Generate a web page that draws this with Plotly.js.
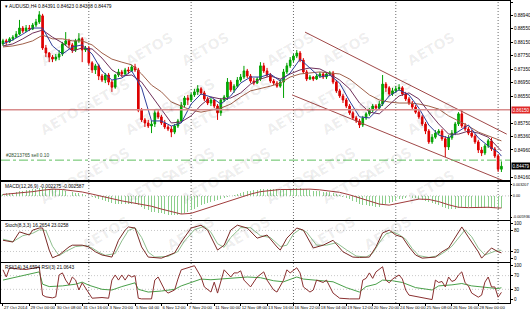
<!DOCTYPE html>
<html><head><meta charset="utf-8">
<script src="https://cdn.plot.ly/plotly-3.0.1.min.js"></script>
<style>html,body{margin:0;padding:0;background:#fff}#c{width:530px;height:310px}</style>
</head><body><div id="c"></div>
<script>
const headerText = "\u25BE AUDUSD,H4 0.84391 0.84623 0.84308 0.84479";
const macdText = "MACD(12,26,9) -0.002275 -0.002587";
const stochText = "Stoch(8,3,3) 16.2654 23.0258";
const rsiText = "RSI(14) 34.6594 RSI(3) 21.0643";
const orderText = "#28213765 sell 0.10";

const openP = [0.8810,0.8819,0.8816,0.8825,0.8830,0.8839,0.8857,0.8848,0.8857,0.8854,0.8866,0.8875,0.8893,0.8798,0.8783,0.8771,0.8765,0.8771,0.8780,0.8810,
0.8819,0.8807,0.8792,0.8819,0.8825,0.8792,0.8798,0.8754,0.8733,0.8745,0.8715,0.8703,0.8718,0.8697,0.8682,0.8718,0.8727,0.8721,0.8733,0.8730,
0.8742,0.8733,0.8614,0.8585,0.8576,0.8567,0.8573,0.8606,0.8594,0.8576,0.8564,0.8558,0.8549,0.8567,0.8582,0.8629,0.8650,0.8644,0.8659,0.8668,
0.8677,0.8665,0.8647,0.8635,0.8644,0.8626,0.8606,0.8644,0.8653,0.8697,0.8674,0.8685,0.8703,0.8712,0.8730,0.8715,0.8700,0.8694,0.8706,0.8745,
0.8730,0.8718,0.8700,0.8694,0.8685,0.8697,0.8727,0.8745,0.8762,0.8774,0.8783,0.8762,0.8727,0.8706,0.8712,0.8706,0.8715,0.8721,0.8712,0.8721,
0.8724,0.8697,0.8671,0.8656,0.8644,0.8626,0.8606,0.8591,0.8582,0.8570,0.8591,0.8603,0.8614,0.8626,0.8620,0.8632,0.8691,0.8680,0.8662,0.8671,
0.8677,0.8680,0.8662,0.8647,0.8635,0.8623,0.8608,0.8594,0.8573,0.8552,0.8520,0.8534,0.8546,0.8552,0.8529,0.8505,0.8532,0.8546,0.8573,0.8603,
0.8567,0.8558,0.8546,0.8537,0.8520,0.8496,0.8487,0.8508,0.8523,0.8499,0.8478,0.84391];
const highP = [0.8825,0.8825,0.8830,0.8836,0.8848,0.8881,0.8863,0.8866,0.8866,0.8872,0.8884,0.8907,0.8899,0.8807,0.8786,0.8777,0.8780,0.8792,0.8816,0.8845,
0.8825,0.8813,0.8825,0.8842,0.8830,0.8804,0.8804,0.8759,0.8751,0.8751,0.8721,0.8724,0.8724,0.8703,0.8721,0.8736,0.8733,0.8739,0.8742,0.8748,
0.8751,0.8739,0.8620,0.8591,0.8585,0.8582,0.8614,0.8614,0.8600,0.8585,0.8570,0.8567,0.8573,0.8588,0.8638,0.8656,0.8659,0.8665,0.8677,0.8688,
0.8682,0.8671,0.8653,0.8650,0.8647,0.8632,0.8650,0.8659,0.8709,0.8703,0.8691,0.8712,0.8721,0.8745,0.8736,0.8721,0.8709,0.8712,0.8756,0.8754,
0.8739,0.8724,0.8706,0.8700,0.8706,0.8736,0.8754,0.8771,0.8780,0.8792,0.8789,0.8768,0.8733,0.8718,0.8715,0.8721,0.8727,0.8727,0.8727,0.8730,
0.8730,0.8703,0.8677,0.8662,0.8650,0.8632,0.8611,0.8597,0.8588,0.8597,0.8608,0.8620,0.8632,0.8632,0.8641,0.8718,0.8697,0.8685,0.8680,0.8685,
0.8691,0.8685,0.8668,0.8653,0.8641,0.8629,0.8614,0.8600,0.8579,0.8558,0.8543,0.8555,0.8558,0.8558,0.8537,0.8540,0.8555,0.8579,0.8608,0.8614,
0.8576,0.8564,0.8555,0.8543,0.8526,0.8505,0.8514,0.8529,0.8532,0.8505,0.8484,0.84623];
const lowP = [0.8804,0.8807,0.8813,0.8819,0.8828,0.8836,0.8842,0.8845,0.8848,0.8851,0.8860,0.8869,0.8792,0.8771,0.8756,0.8756,0.8759,0.8762,0.8774,0.8804,
0.8798,0.8783,0.8786,0.8813,0.8756,0.8786,0.8748,0.8724,0.8721,0.8703,0.8697,0.8694,0.8688,0.8668,0.8677,0.8712,0.8712,0.8715,0.8721,0.8727,
0.8727,0.8608,0.8579,0.8564,0.8561,0.8546,0.8564,0.8588,0.8570,0.8558,0.8552,0.8534,0.8543,0.8561,0.8576,0.8623,0.8629,0.8638,0.8653,0.8659,
0.8659,0.8641,0.8629,0.8626,0.8620,0.8585,0.8597,0.8638,0.8644,0.8668,0.8665,0.8680,0.8697,0.8706,0.8709,0.8694,0.8688,0.8691,0.8700,0.8724,
0.8712,0.8694,0.8688,0.8680,0.8680,0.8650,0.8721,0.8739,0.8756,0.8768,0.8756,0.8721,0.8700,0.8703,0.8700,0.8703,0.8709,0.8706,0.8706,0.8715,
0.8691,0.8665,0.8650,0.8635,0.8620,0.8600,0.8585,0.8576,0.8561,0.8564,0.8585,0.8597,0.8608,0.8614,0.8614,0.8626,0.8668,0.8656,0.8656,0.8665,
0.8671,0.8656,0.8641,0.8629,0.8617,0.8603,0.8588,0.8567,0.8543,0.8514,0.8514,0.8529,0.8540,0.8523,0.8475,0.8496,0.8526,0.8540,0.8567,0.8561,
0.8552,0.8540,0.8532,0.8514,0.8487,0.8478,0.8481,0.8502,0.8493,0.8472,0.8431,0.84308];
const closeP = [0.8819,0.8816,0.8825,0.8830,0.8839,0.8857,0.8848,0.8857,0.8854,0.8866,0.8875,0.8896,0.8798,0.8783,0.8771,0.8765,0.8771,0.8780,0.8810,0.8819,
0.8807,0.8792,0.8819,0.8825,0.8792,0.8798,0.8754,0.8733,0.8745,0.8715,0.8703,0.8718,0.8697,0.8682,0.8718,0.8727,0.8721,0.8733,0.8730,0.8742,
0.8733,0.8614,0.8585,0.8576,0.8567,0.8573,0.8606,0.8594,0.8576,0.8564,0.8558,0.8549,0.8567,0.8582,0.8629,0.8650,0.8644,0.8659,0.8668,0.8677,
0.8665,0.8647,0.8635,0.8644,0.8626,0.8606,0.8644,0.8653,0.8697,0.8674,0.8685,0.8703,0.8712,0.8730,0.8715,0.8700,0.8694,0.8706,0.8745,0.8730,
0.8718,0.8700,0.8694,0.8685,0.8697,0.8727,0.8745,0.8762,0.8774,0.8783,0.8762,0.8727,0.8706,0.8712,0.8706,0.8715,0.8721,0.8712,0.8721,0.8724,
0.8697,0.8671,0.8656,0.8644,0.8626,0.8606,0.8591,0.8582,0.8570,0.8591,0.8603,0.8614,0.8626,0.8620,0.8632,0.8691,0.8680,0.8662,0.8671,0.8677,
0.8680,0.8662,0.8647,0.8635,0.8623,0.8608,0.8594,0.8573,0.8552,0.8520,0.8534,0.8546,0.8552,0.8529,0.8505,0.8532,0.8546,0.8573,0.8603,0.8567,
0.8558,0.8546,0.8537,0.8520,0.8496,0.8487,0.8508,0.8523,0.8499,0.8478,0.84391,0.84479];

const maIdx = [0,3,6,9,12,15,18,21,24,27,30,33,36,39,42,45,48,51,54,57,60,63,66,69,72,75,78,81,84,87,90,93,96,99,102,105,108,111,114,117,120,123,126,129,132,135,138,141,144,147,150,151];
const maFast = [0.8810,0.8822,0.8839,0.8857,0.8857,0.8804,0.8780,0.8801,0.8807,0.8780,0.8730,0.8703,0.8709,0.8730,0.8680,0.8582,0.8582,0.8567,0.8576,0.8632,0.8662,0.8653,0.8632,0.8656,0.8694,0.8712,0.8712,0.8721,0.8700,0.8724,0.8765,0.8739,0.8712,0.8718,0.8694,0.8641,0.8594,0.8591,0.8620,0.8656,0.8674,0.8659,0.8620,0.8570,0.8540,0.8532,0.8552,0.8570,0.8532,0.8508,0.8490,0.8478];
const maMid = [0.8804,0.8810,0.8825,0.8842,0.8851,0.8830,0.8813,0.8789,0.8798,0.8795,0.8768,0.8733,0.8715,0.8718,0.8697,0.8656,0.8617,0.8576,0.8579,0.8597,0.8629,0.8653,0.8647,0.8650,0.8665,0.8691,0.8706,0.8715,0.8706,0.8721,0.8733,0.8739,0.8736,0.8721,0.8703,0.8677,0.8635,0.8608,0.8603,0.8629,0.8656,0.8665,0.8647,0.8608,0.8573,0.8543,0.8543,0.8552,0.8546,0.8534,0.8502,0.8493];
const maSlow = [0.8801,0.8804,0.8810,0.8819,0.8836,0.8825,0.8825,0.8819,0.8819,0.8807,0.8783,0.8765,0.8756,0.8748,0.8721,0.8688,0.8668,0.8638,0.8626,0.8614,0.8608,0.8614,0.8620,0.8632,0.8653,0.8671,0.8677,0.8685,0.8694,0.8712,0.8721,0.8724,0.8727,0.8724,0.8721,0.8706,0.8682,0.8659,0.8644,0.8638,0.8635,0.8635,0.8632,0.8626,0.8617,0.8597,0.8582,0.8567,0.8549,0.8537,0.8526,0.8523];

const macdMain = [0.0006,0.0007,0.0008,0.0009,0.0011,0.0013,0.0014,0.0016,0.0017,0.0018,0.0019,0.0021,
0.0021,0.0021,0.0020,0.0019,0.0018,0.0017,0.0016,0.0015,0.0013,0.0011,0.0009,0.0007,0.0005,0.0003,
0.0000,-0.0003,-0.0006,-0.0009,-0.0012,-0.0015,-0.0018,-0.0021,-0.0022,-0.0023,-0.0023,-0.0023,-0.0023,-0.0022,-0.0022,
-0.0027,-0.0032,-0.0037,-0.0041,-0.0044,-0.0045,-0.0047,-0.0049,-0.0051,-0.0053,-0.0055,-0.0055,-0.0054,-0.0051,-0.0047,-0.0044,
-0.0041,-0.0036,-0.0031,-0.0027,-0.0023,-0.0020,-0.0017,-0.0014,-0.0012,-0.0010,-0.0007,-0.0004,-0.0001,0.0002,0.0005,0.0008,
0.0011,0.0013,0.0015,0.0016,0.0017,0.0018,0.0018,0.0019,0.0019,0.0018,0.0018,0.0017,0.0017,0.0018,0.0019,0.0020,0.0021,0.0021,
0.0020,0.0018,0.0016,0.0015,0.0014,0.0013,0.0012,0.0012,0.0011,0.0009,0.0006,0.0002,-0.0002,-0.0006,-0.0010,-0.0014,-0.0018,-0.0022,
-0.0025,-0.0027,-0.0028,-0.0029,-0.0030,-0.0030,-0.0026,-0.0022,-0.0019,-0.0016,-0.0013,-0.0010,-0.0008,-0.0007,-0.0006,-0.0006,-0.0007,-0.0009,-0.0011,-0.0014,
-0.0018,-0.0021,-0.0024,-0.0027,-0.0030,-0.0033,-0.0036,-0.0037,-0.0036,-0.0034,-0.0032,-0.0031,-0.0031,-0.0031,-0.0031,-0.0032,-0.0034,-0.0035,-0.0035,-0.0034,-0.0035,-0.0036,-0.0034];
const macdSignal = [0.0004,0.0006,0.0009,0.0012,0.0016,0.0019,0.0018,0.0015,0.0011,0.0005,-0.0002,-0.0008,-0.0014,-0.0019,-0.0023,-0.0029,-0.0037,-0.0045,-0.0051,-0.0049,-0.0040,-0.0030,-0.0021,-0.0012,-0.0004,0.0005,0.0012,0.0016,0.0018,0.0018,0.0019,0.0019,0.0017,0.0014,0.0010,0.0003,-0.0006,-0.0015,-0.0023,-0.0026,-0.0021,-0.0014,-0.0009,-0.0010,-0.0016,-0.0025,-0.0032,-0.0033,-0.0032,-0.0032,-0.0034,-0.0034];
const macdTicks = [0.003207, 0, -0.005936];
const macdTickText = ["0.003207", "0.00", "-0.005936"];

const stochMainX = [0,3,5,8,9,11,12,14,15,17,20,21,24,26,28,30,33,35,37,38,40,42,44,48,52,54,57,60,62,64,65,67,69,71,74,77,80,83,84,86,89,91,94,97,100,103,106,108,111,113,115,117,119,121,123,125,127,131,133,135,138,139,141,144,145,148,150,151];
const stochMain = [52,47,76,67,81,87,87,24,2,10,33,38,38,33,19,10,4,52,81,90,87,33,4,1,16,47,87,95,81,44,24,38,81,95,87,58,67,33,24,58,87,81,30,38,52,19,4,3,4,33,73,81,67,61,33,10,1,4,19,30,73,90,61,19,1,30,19,16.27];
const stochSigX = [0,3,6,9,11,13,15,17,19,22,25,27,29,31,34,36,38,40,42,44,46,50,53,55,58,61,63,65,67,69,72,75,78,81,84,86,88,90,92,95,98,101,104,107,110,112,114,116,118,120,122,124,126,129,132,134,136,138,140,142,144,146,148,150,151];
const stochSig = [55,48,65,72,82,80,35,8,20,34,37,30,18,9,14,50,80,88,60,18,4,6,20,50,82,92,75,42,32,60,88,88,65,60,34,38,70,84,75,38,38,45,25,7,4,15,45,70,76,68,55,28,8,3,8,20,35,58,82,62,30,10,18,24,23.03];
const stochTicks = [100, 80, 20, 0];

const rsiFastX = [0,1,2,4,7,9,11,12,13,15,16,17,18,19,20,21,22,23,24,26,27,30,32,33,34,35,36,37,38,39,40,41,42,45,46,47,49,50,52,53,54,57,58,60,61,63,64,65,66,67,69,70,71,72,73,75,77,79,80,82,83,85,86,87,89,90,91,93,94,95,97,98,100,102,105,108,109,110,111,112,113,115,116,117,118,120,121,122,123,126,127,130,131,132,133,134,135,136,137,138,139,140,141,142,144,145,146,147,148,149,150,151];
const rsiFast = [87,66,93,90,88,92,95,13,8,5,8,72,78,57,43,66,57,28,49,19,4,6,4,57,72,57,72,57,72,66,70,4,2,2,57,66,28,19,28,60,87,96,99,66,37,22,51,19,51,87,66,78,78,84,57,37,66,81,57,28,22,57,87,78,93,78,37,22,28,57,50,57,19,4,2,2,57,62,78,62,81,96,57,49,60,72,60,28,13,7,5,0,57,50,53,37,66,53,57,72,81,49,40,19,7,13,51,66,37,37,7,21.06];
const rsiSlowX = [0,4,8,11,12,14,18,22,24,26,30,33,36,40,41,44,48,52,54,57,60,63,66,70,74,78,82,85,89,91,95,100,104,108,110,113,115,118,121,125,130,132,136,139,142,146,150,151];
const rsiSlow = [57,65,75,81,45,38,40,45,51,42,30,28,38,49,30,22,25,30,40,49,60,58,60,62,66,64,55,52,66,60,57,52,35,22,38,45,57,55,50,35,28,40,43,47,40,36,32,34.66];
const rsiTicks = [100, 70, 30, 0];

const tickIdx = [0,8,16,24,32,40,48,56,64,72,80,88,96,104,112,120,128,136,144];
const tickText = ["27 Oct 2014","29 Oct 00:00","30 Oct 08:00","31 Oct 16:00","3 Nov 20:00","5 Nov 04:00","6 Nov 12:00","7 Nov 20:00","11 Nov 00:00","12 Nov 08:00","13 Nov 16:00","16 Nov 22:00","18 Nov 04:00","19 Nov 12:00","20 Nov 20:00","24 Nov 00:00","25 Nov 08:00","26 Nov 16:00","28 Nov 00:00"];
const priceTicks = [0.89340,0.88940,0.88550,0.88150,0.87750,0.87350,0.86950,0.86550,0.85750,0.85360,0.84960,0.84160];

const slPrice = 0.86150;
const orderPrice = 0.84660;
const bidPrice = 0.84479;
const weekSep = [26, 57, 88, 119, 150];
const channelUpperX = [91.5, 152.6], channelUpperY = [0.8845, 0.8543];
const channelLowerX = [87.6, 152.6], channelLowerY = [0.8659, 0.8401];

const idx = openP.map((_, i) => i);
const F = 'Liberation Sans, Arial, sans-serif';
const tf = {family: F, size: 4.6, color: '#000'};
const PW = 509, PL = 1;

const traces = [
  {type:'scatter', mode:'lines', x:maIdx, y:maSlow, line:{color:'#a0604a', width:1}, xaxis:'x', yaxis:'y', hoverinfo:'skip'},
  {type:'scatter', mode:'lines', x:maIdx, y:maMid, line:{color:'#70305a', width:1}, xaxis:'x', yaxis:'y', hoverinfo:'skip'},
  {type:'scatter', mode:'lines', x:maIdx, y:maFast, line:{color:'#30409a', width:1}, xaxis:'x', yaxis:'y', hoverinfo:'skip'},
  {type:'scatter', mode:'lines', x:channelUpperX, y:channelUpperY, line:{color:'#a04848', width:1}, xaxis:'x', yaxis:'y', hoverinfo:'skip'},
  {type:'scatter', mode:'lines', x:channelLowerX, y:channelLowerY, line:{color:'#a04848', width:1}, xaxis:'x', yaxis:'y', hoverinfo:'skip'},
  {type:'candlestick', x:idx, open:openP, high:highP, low:lowP, close:closeP, xaxis:'x', yaxis:'y',
   increasing:{line:{color:'#00a000', width:1}, fillcolor:'#00b400'},
   decreasing:{line:{color:'#dd0000', width:1}, fillcolor:'#e00000'}, whiskerwidth:0, hoverinfo:'skip'},
  {type:'bar', x:idx, y:macdMain, width:0.3, marker:{color:'#8ccf8c', line:{width:0}}, xaxis:'x2', yaxis:'y2', hoverinfo:'skip'},
  {type:'scatter', mode:'lines', x:maIdx, y:macdSignal, line:{color:'#a03c3c', width:1}, xaxis:'x2', yaxis:'y2', hoverinfo:'skip'},
  {type:'scatter', mode:'lines', x:stochSigX, y:stochSig, line:{color:'#8fbf8f', width:1}, xaxis:'x3', yaxis:'y3', hoverinfo:'skip'},
  {type:'scatter', mode:'lines', x:stochMainX, y:stochMain, line:{color:'#7a2a26', width:1}, xaxis:'x3', yaxis:'y3', hoverinfo:'skip'},
  {type:'scatter', mode:'lines', x:rsiSlowX, y:rsiSlow, line:{color:'#4aa04a', width:1}, xaxis:'x4', yaxis:'y4', hoverinfo:'skip'},
  {type:'scatter', mode:'lines', x:rsiFastX, y:rsiFast, line:{color:'#8a3030', width:1}, xaxis:'x4', yaxis:'y4', hoverinfo:'skip'}
];

const xBase = {range:[-0.6, 153.6], showgrid:false, zeroline:false, showline:true, mirror:true, linecolor:'#000', linewidth:1, showticklabels:false, ticks:'', fixedrange:true};
const yBase = {side:'right', showgrid:false, zeroline:false, showline:true, mirror:true, linecolor:'#000', linewidth:1, ticks:'outside', ticklen:2, tickcolor:'#000', tickfont:tf, fixedrange:true};

const shapes = [];
weekSep.forEach(s => shapes.push({type:'line', xref:'x', yref:'paper', x0:s, x1:s, y0:0, y1:1, line:{color:'#444', width:0.8, dash:'1px,2px'}, layer:'below'}));
shapes.push({type:'line', xref:'paper', yref:'y', x0:0, x1:1, y0:slPrice, y1:slPrice, line:{color:'#d88c8c', width:1.5}});
shapes.push({type:'line', xref:'paper', yref:'y', x0:0, x1:1, y0:orderPrice, y1:orderPrice, line:{color:'#60bf60', width:1, dash:'dashdot'}});
shapes.push({type:'line', xref:'paper', yref:'y2', x0:0, x1:1, y0:0, y1:0, line:{color:'#c0c0c0', width:1, dash:'1px,2px'}, layer:'below'});
[80,20].forEach(v => shapes.push({type:'line', xref:'paper', yref:'y3', x0:0, x1:1, y0:v, y1:v, line:{color:'#c8c8c8', width:1, dash:'1px,2px'}, layer:'below'}));
[70,30].forEach(v => shapes.push({type:'line', xref:'paper', yref:'y4', x0:0, x1:1, y0:v, y1:v, line:{color:'#c8c8c8', width:1, dash:'1px,2px'}, layer:'below'}));

const annotations = [];
for (let r = 0; r < 6; r++) {
  for (let c = 0; c < 6; c++) {
    const px = 35 + c * 85 + (r % 2) * 42;
    const py = 26 + r * 46;
    if (px > 480) continue;
    annotations.push({xref:'paper', yref:'paper', x:(px - PL) / PW, y:(303 - py) / 302, text:'AETOS', showarrow:false,
      textangle:-30, font:{family:'DejaVu Sans, sans-serif', size:14, color:'rgba(0,0,0,0.07)', weight:'bold'}});
  }
}
const lab = (txt, y, col) => ({xref:'paper', yref:'paper', x:0.004, y:y, xanchor:'left', yanchor:'top', text:txt, showarrow:false, font:{family:F, size:4.8, color:col || '#000'}});
annotations.push(lab(headerText, 0.997));
annotations.push(lab(macdText, 0.401));
annotations.push(lab(stochText, 0.2705));
annotations.push(lab(rsiText, 0.131));
annotations.push({xref:'paper', yref:'y', x:0.006, y:orderPrice, xanchor:'left', yanchor:'bottom', text:orderText, showarrow:false, font:{family:F, size:4.8, color:'#305030'}});
annotations.push({xref:'paper', yref:'y', x:1, xshift:1, y:slPrice, xanchor:'left', yanchor:'middle', text:slPrice.toFixed(5), showarrow:false, bgcolor:'#e02828', borderpad:0.5, font:{family:F, size:4.6, color:'#fff'}});
annotations.push({xref:'paper', yref:'y', x:1, xshift:1, y:bidPrice, xanchor:'left', yanchor:'middle', text:bidPrice.toFixed(5), showarrow:false, bgcolor:'#000', borderpad:0.5, font:{family:F, size:4.6, color:'#fff'}});

const layout = {
  width:530, height:310, margin:{l:PL, r:20, t:1, b:7},
  paper_bgcolor:'#fff', plot_bgcolor:'#fff', showlegend:false, bargap:0,
  xaxis: Object.assign({}, xBase, {anchor:'y', rangeslider:{visible:false}}),
  xaxis2: Object.assign({}, xBase, {anchor:'y2', matches:'x'}),
  xaxis3: Object.assign({}, xBase, {anchor:'y3', matches:'x'}),
  xaxis4: Object.assign({}, xBase, {anchor:'y4', matches:'x', showticklabels:true, tickvals:tickIdx, ticktext:tickText, ticks:'outside', ticklen:2, tickcolor:'#000', tickfont:{family:F, size:4.3, color:'#000'}, ticklabelposition:'outside right', tickangle:0}),
  yaxis: Object.assign({}, yBase, {domain:[0.4073, 1], range:[0.84072, 0.8937], tickvals:priceTicks, ticktext:priceTicks.map(v => v.toFixed(5))}),
  yaxis2: Object.assign({}, yBase, {domain:[0.2748, 0.4007], range:[-0.00678, 0.00391], tickvals:macdTicks, ticktext:macdTickText, ticklen:1, tickfont:{family:F, size:3.8, color:'#000'}}),
  yaxis3: Object.assign({}, yBase, {domain:[0.1358, 0.2715], range:[-10, 107], tickvals:stochTicks, ticktext:stochTicks.map(String)}),
  yaxis4: Object.assign({}, yBase, {domain:[0, 0.1325], range:[-10, 107], tickvals:rsiTicks, ticktext:rsiTicks.map(String)}),
  shapes: shapes, annotations: annotations
};
Plotly.newPlot('c', traces, layout, {displayModeBar:false, staticPlot:true});
</script></body></html>
